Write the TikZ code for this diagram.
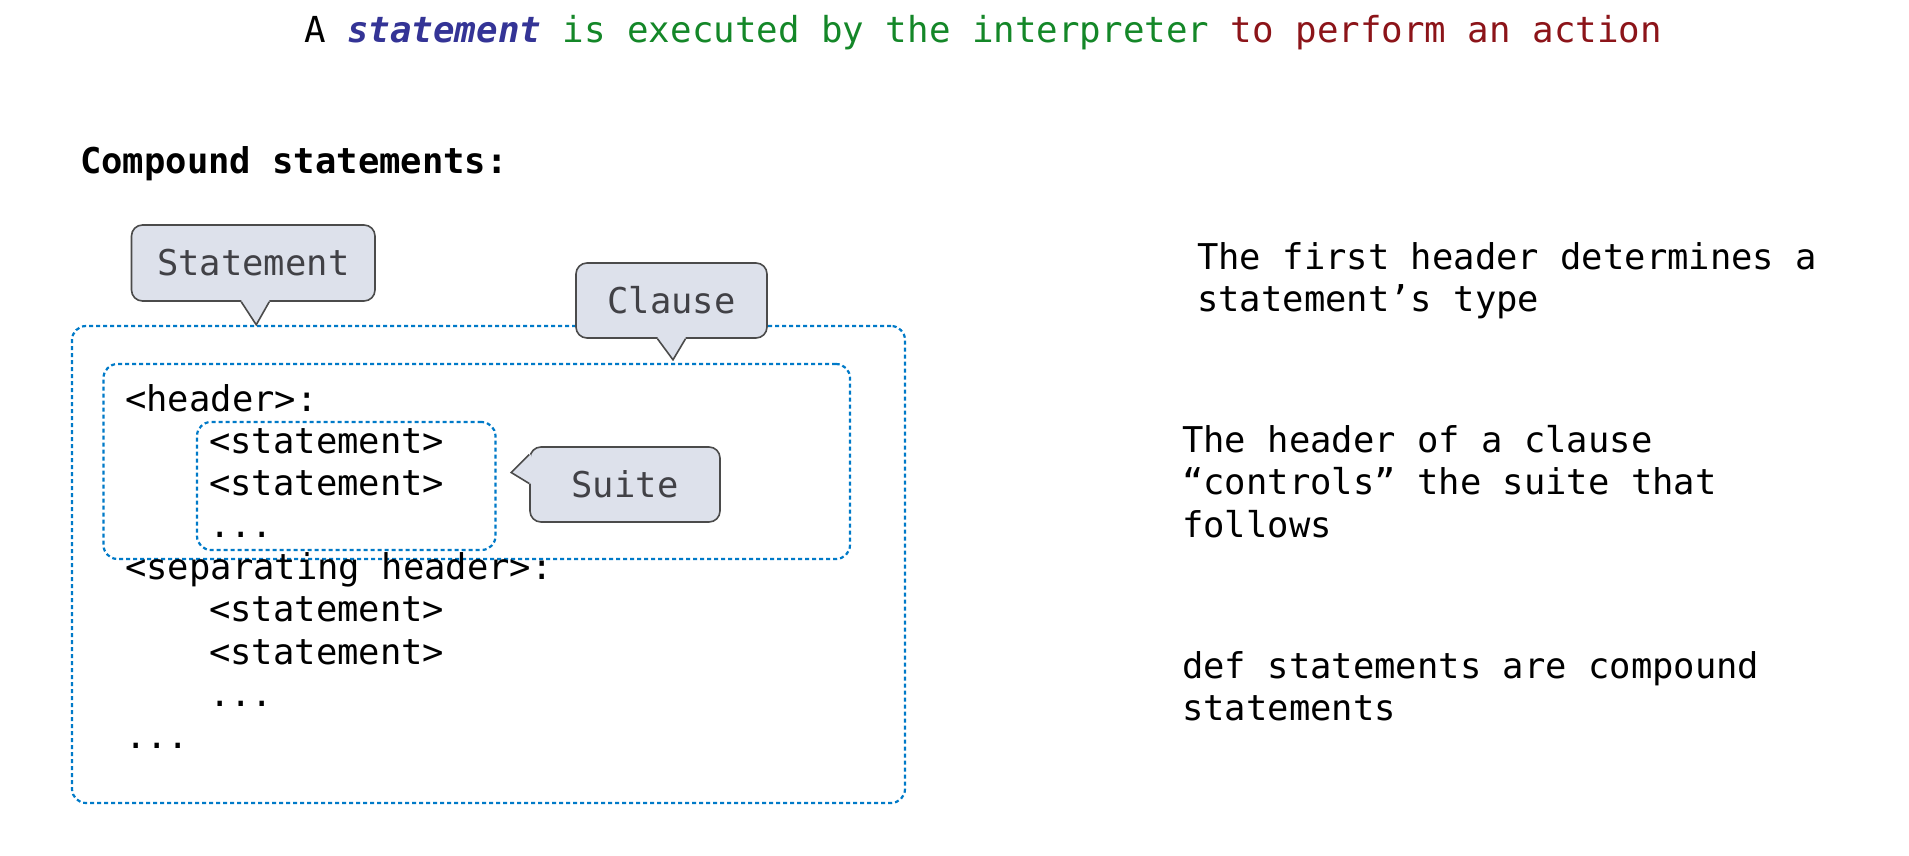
\documentclass[tikz,border=0pt]{standalone}
\usepackage{fontspec}
\setmonofont{DejaVu Sans Mono}
\usetikzlibrary{calc}
\definecolor{boxblue}{RGB}{0,122,200}
\definecolor{bubfill}{RGB}{221,225,235}
\definecolor{bubline}{RGB}{75,75,75}
\definecolor{bubtext}{RGB}{65,65,70}
\definecolor{stblue}{RGB}{52,52,150}
\definecolor{exgreen}{RGB}{20,135,40}
\definecolor{acred}{RGB}{140,20,25}
\tikzset{
  code/.style={anchor=base west, inner sep=0pt, font=\ttfamily\fontsize{35.5}{42}\selectfont},
  dotbox/.style={draw=boxblue, line width=2.2pt, dash pattern=on 4pt off 3pt, rounded corners=14pt, inner sep=0pt},
  bubble/.style={draw=bubline, fill=bubfill, line width=1.6pt, rounded corners=11pt, text=bubtext,
    inner sep=0pt, font=\ttfamily\fontsize{35.5}{42}\selectfont},
  tailfill/.style={fill=bubfill},
  tailline/.style={draw=bubline, line width=1.6pt, line join=miter},
}
\begin{document}
\begin{tikzpicture}[x=1pt,y=-1pt]
\useasboundingbox (0,0) rectangle (1909,856);
\fill[white] (0,0) rectangle (1909,856);

% title
\node[anchor=base, inner sep=0pt, font=\ttfamily\fontsize{35.8}{44}\selectfont] (title) at (983,43)
  {A {\bfseries\itshape\color{stblue}statement} {\color{exgreen}is executed by the interpreter} {\color{acred}to perform an action}};

\node[code, font=\ttfamily\bfseries\fontsize{35.5}{42}\selectfont] (compound) at (80,174) {Compound statements:};

% dotted boxes
\node[dotbox, minimum width=833pt, minimum height=477pt] (outer) at (488.5,564.5) {};
\node[dotbox, minimum width=746.5pt, minimum height=195pt] (clausebox) at (476.75,461.5) {};
\node[dotbox, minimum width=298.5pt, minimum height=128pt] (suitebox) at (346.25,486) {};

% code lines
\node[code] (l1) at (125,411) {<header>:};
\node[code] (l2) at (209,453) {<statement>};
\node[code] (l3) at (209,495) {<statement>};
\node[code] (l4) at (209,537) {...};
\node[code] (l5) at (125,579) {<separating header>:};
\node[code] (l6) at (209,621) {<statement>};
\node[code] (l7) at (209,664) {<statement>};
\node[code] (l8) at (209,706) {...};
\node[code] (l9) at (125,748) {...};

% bubbles
\node[bubble, minimum width=243.5pt, minimum height=76pt] (stmt) at (253.25,263) {Statement};
\fill[tailfill] ($(stmt.south)+(-12,-2)$) -- ($(stmt.south)+(-12,0)$) -- ($(stmt.south)+(3,23)$)
  -- ($(stmt.south)+(16,0)$) -- ($(stmt.south)+(16,-2)$) -- cycle;
\draw[tailline] ($(stmt.south)+(-12,0)$) -- ($(stmt.south)+(3,23)$) -- ($(stmt.south)+(16,0)$);

\node[bubble, minimum width=191pt, minimum height=75pt] (clause) at (671.5,300.5) {Clause};
\fill[tailfill] ($(clause.south)+(-14,-2)$) -- ($(clause.south)+(-14,0)$) -- ($(clause.south)+(1.5,21)$)
  -- ($(clause.south)+(14,0)$) -- ($(clause.south)+(14,-2)$) -- cycle;
\draw[tailline] ($(clause.south)+(-14,0)$) -- ($(clause.south)+(1.5,21)$) -- ($(clause.south)+(14,0)$);

\node[bubble, minimum width=190pt, minimum height=75pt] (suite) at (625,484.5) {Suite};
\fill[tailfill] ($(suite.west)+(2,-30)$) -- ($(suite.west)+(0,-30)$) -- ($(suite.west)+(-18,-12)$)
  -- ($(suite.west)+(0,-1)$) -- ($(suite.west)+(2,-1)$) -- cycle;
\draw[tailline] ($(suite.west)+(0,-30)$) -- ($(suite.west)+(-18,-12)$) -- ($(suite.west)+(0,-1)$);

% right-hand notes
\node[code] (n1a) at (1197,269) {The first header determines a};
\node[code] (n1b) at (1197,311) {statement’s type};
\node[code] (n2a) at (1182,452) {The header of a clause};
\node[code] (n2b) at (1182,494) {“controls” the suite that};
\node[code] (n2c) at (1182,537) {follows};
\node[code] (n3a) at (1182,678) {def statements are compound};
\node[code] (n3b) at (1182,720) {statements};
\end{tikzpicture}
\end{document}
